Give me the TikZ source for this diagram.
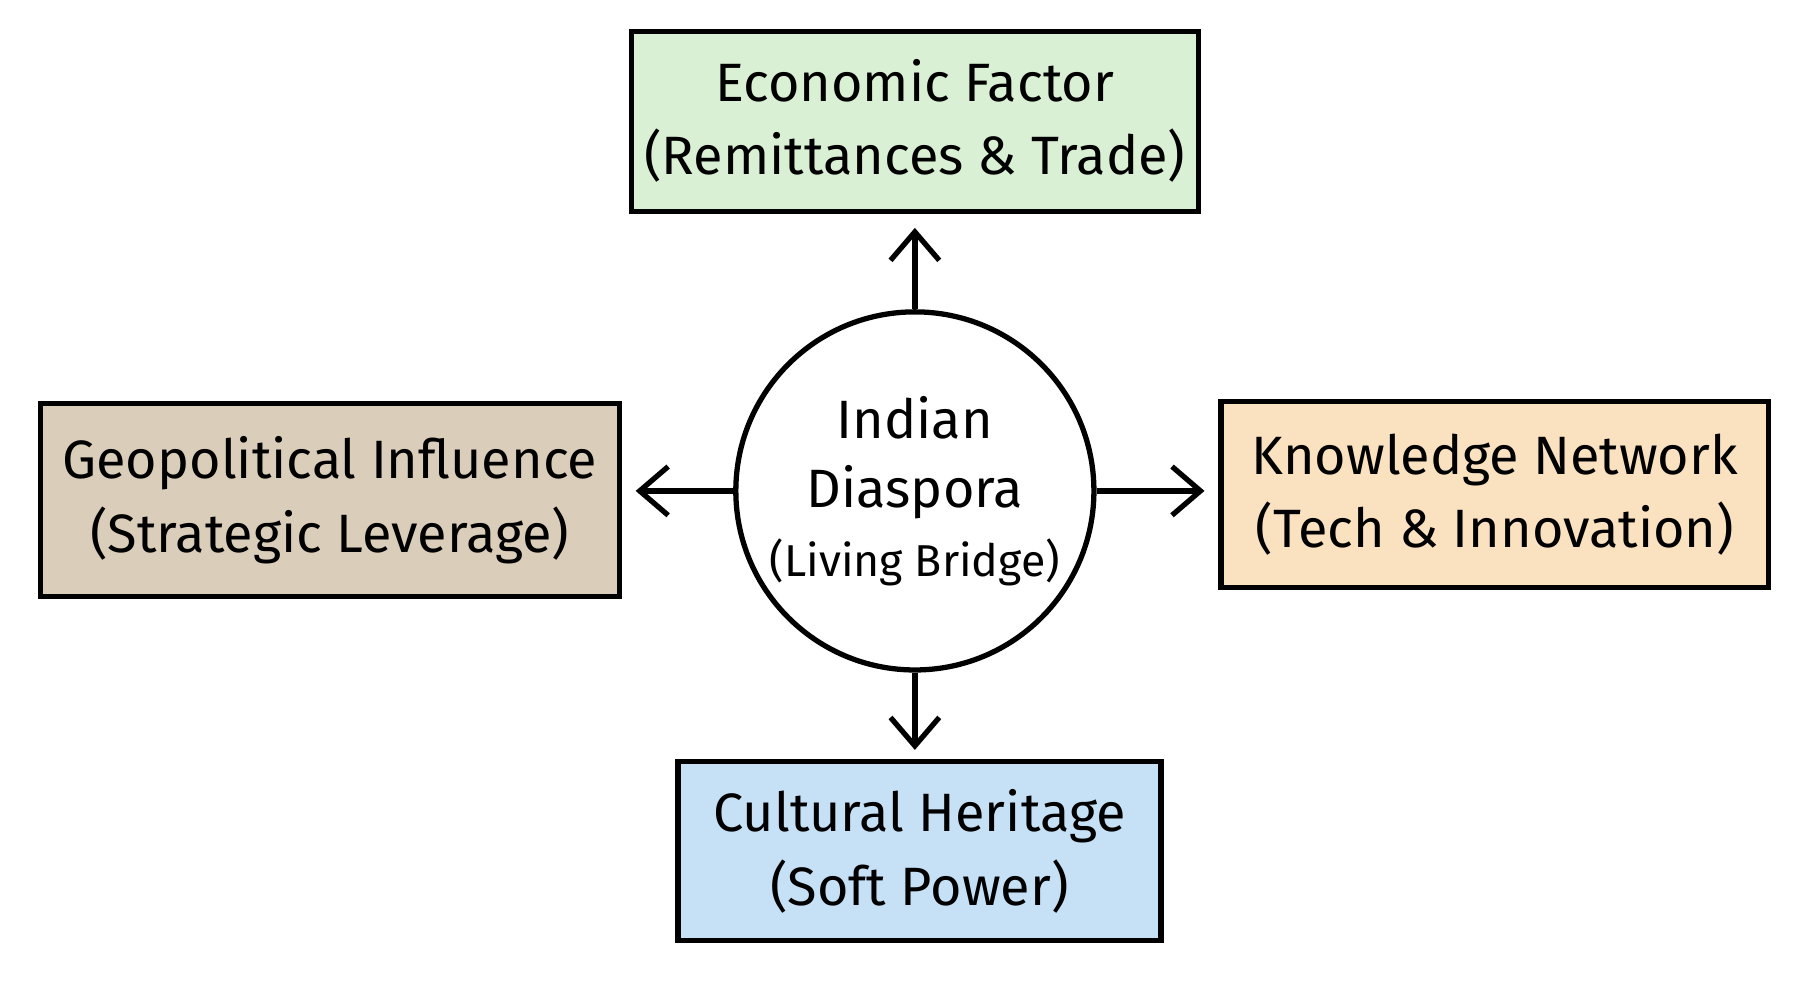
\documentclass[tikz,border=0pt]{standalone}
\usepackage{fontspec}
\setmainfont{Fira Sans}
\usetikzlibrary{arrows.meta, positioning}
\definecolor{econgreen}{RGB}{218, 240, 212}
\definecolor{geotan}{RGB}{218, 205, 186}
\definecolor{knoworange}{RGB}{250, 226, 192}
\definecolor{cultblue}{RGB}{198, 224, 245}

\begin{document}
\begin{tikzpicture}[
    box/.style={draw, line width=1.3pt, align=center,
                font=\fontsize{13.3}{18}\selectfont, inner sep=0pt},
    arrow/.style={-{Straight Barb[length=7pt, width=12pt]}, line width=1.3pt},
  ]
    \useasboundingbox (0,0) rectangle (15.6,8.52);

    % centre
    \node[draw, circle, line width=1.3pt, minimum size=3.1cm, inner sep=0pt,
          align=center, font=\fontsize{13.3}{17}\selectfont] (dias) at (7.92,4.27)
      {Indian\\Diaspora\\{\fontsize{11}{16}\selectfont (Living Bridge)}};

    % outer boxes
    \node[box, fill=econgreen, minimum width=4.91cm, minimum height=1.56cm]
      (econ) at (7.92,7.47) {Economic Factor\\(Remittances \& Trade)};
    \node[box, fill=geotan, minimum width=5.01cm, minimum height=1.67cm]
      (geo) at (2.855,4.19) {Geopolitical Influence\\(Strategic Leverage)};
    \node[box, fill=knoworange, minimum width=4.74cm, minimum height=1.61cm]
      (know) at (12.94,4.24) {Knowledge Network\\(Tech \& Innovation)};
    \node[box, fill=cultblue, minimum width=4.18cm, minimum height=1.55cm]
      (cult) at (7.96,1.15) {Cultural Heritage\\(Soft Power)};

    % arrows
    \draw[arrow] (dias.north) -- ([yshift=-0.12cm]econ.south -| dias.north);
    \draw[arrow] (dias.west) -- ([xshift=0.12cm]geo.east |- dias.west);
    \draw[arrow] (dias.east) -- ([xshift=-0.12cm]know.west |- dias.east);
    \draw[arrow] (dias.south) -- ([yshift=0.08cm]cult.north -| dias.south);
  \end{tikzpicture}
\end{document}
